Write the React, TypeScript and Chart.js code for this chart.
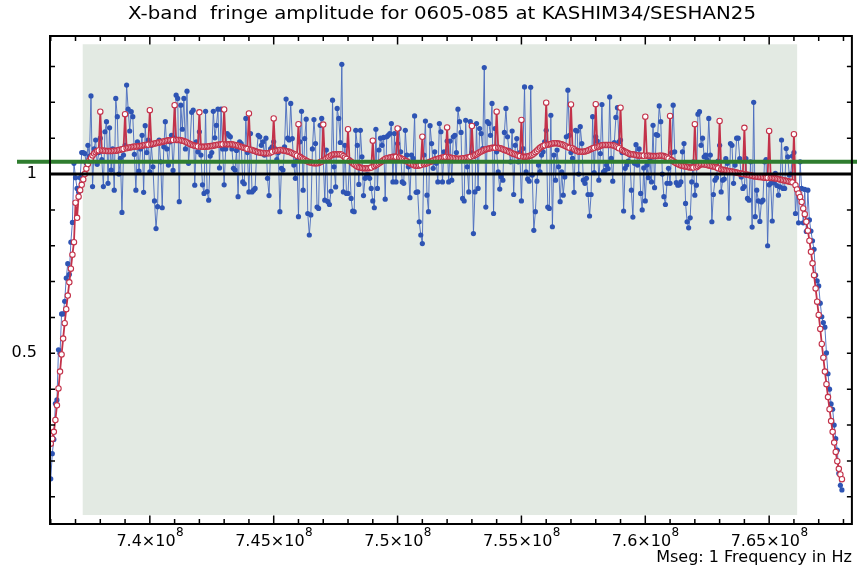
import React, { useEffect, useRef } from "react";
import { Chart, registerables } from "chart.js";

Chart.register(...registerables);

const TITLE = "X-band  fringe amplitude for 0605-085 at KASHIM34/SESHAN25";
const X_AXIS_LABEL = "Mseg: 1 Frequency in Hz";

// channel grid: 512 channels of 62.5 kHz starting at 736 MHz
const CHANNEL_START_HZ = 7.36e8;
const CHANNEL_WIDTH_HZ = 62500;

const X_MIN = 7.3597e8;
const X_MAX = 7.6834e8;
const Y_MIN = 0.024;
const Y_MAX = 1.385;

const X_TICK_VALUES = [7.4e8, 7.45e8, 7.5e8, 7.55e8, 7.6e8, 7.65e8];
const X_TICK_MANTISSA = ["7.4", "7.45", "7.5", "7.55", "7.6", "7.65"];
const X_TICK_EXPONENT = "8";
const Y_TICK_VALUES = [0.5, 1];
const Y_TICK_LABELS = ["0.5", "1"];

const GOOD_BAND_HZ = [7.3729e8, 7.6613e8];
const GOOD_BAND_AMP = [0.049, 1.362];
const REFERENCE_LEVEL = 1.034;
const UNITY_LEVEL = 1;

// measured amplitude (blue, filled dots)
const BLUE_0 = [
  0.15, 0.22, 0.26, 0.36, 0.37, 0.51, 0.5, 0.61, 0.61, 0.645, 0.71, 0.75, 0.72, 0.81, 0.865, 1.03, 0.99, 0.96, 0.95, 0.99,
  1.06, 1.06, 1.057, 1.03, 1.08, 1.05, 1.218, 0.965, 1.07, 1.095, 1.027, 1.06, 1.1, 1.04, 0.965, 1.118, 1.146, 0.974, 1.129, 1.011,
  1.07, 0.955, 1.211, 1.16, 1.0, 1.044, 0.893, 1.053, 1.08, 1.248, 1.181, 1.12, 1.174, 1.16, 1.055, 0.955, 1.09, 1.008, 1.07, 1.108,
  0.949, 1.135, 1.06, 1.095, 1.006, 1.08, 1.02, 0.925, 0.848, 0.909, 1.095, 1.034, 0.906, 1.076, 1.146, 1.07, 1.025, 1.09, 1.108, 1.01,
  1.1, 1.22, 1.211, 0.923, 1.192, 1.125, 1.211, 1.07, 1.231, 1.03, 1.085, 1.172, 1.178, 0.969, 1.09, 1.062, 1.118, 1.053, 0.97, 0.946,
];
const BLUE_1 = [
  1.175, 0.951, 0.927, 1.05, 1.06, 1.175, 1.101, 1.136, 1.181, 1.017, 1.181, 1.07, 0.97, 1.07, 1.113, 1.108, 1.104, 1.07, 1.016, 1.011,
  1.066, 0.937, 1.09, 1.085, 0.978, 0.973, 1.155, 1.06, 0.95, 1.113, 0.95, 0.955, 0.96, 1.06, 1.108, 1.104, 1.08, 1.09, 1.053, 1.1,
  0.988, 0.94, 1.07, 1.076, 1.09, 1.07, 1.04, 1.06, 0.895, 1.016, 1.011, 1.076, 1.209, 1.1, 1.095, 1.197, 1.099, 1.025, 0.988, 1.04,
  0.881, 1.09, 1.175, 0.955, 1.099, 1.153, 0.89, 0.83, 0.886, 1.07, 1.152, 1.085, 0.908, 0.904, 1.136, 1.155, 1.04, 0.927, 1.067, 0.923,
];
const BLUE_2 = [
  0.915, 0.952, 1.206, 1.02, 0.964, 1.183, 1.155, 1.088, 1.306, 0.95, 1.08, 0.946, 0.946, 1.04, 0.932, 0.897, 0.895, 1.122, 1.08, 0.971,
  1.122, 1.048, 0.94, 0.988, 0.998, 0.998, 0.988, 0.96, 0.925, 0.906, 1.125, 0.96, 1.067, 1.1, 1.08, 1.102, 0.93, 1.104, 1.108, 1.113,
  1.141, 0.978, 1.113, 0.978, 1.085, 1.127, 1.062, 0.978, 0.974, 1.122, 1.053, 1.02, 0.934, 1.053, 1.044, 1.162, 0.949, 0.95, 0.867, 0.83,
  0.806, 1.053, 1.148, 0.941, 0.895, 1.135, 1.085, 1.016, 1.062, 1.03, 0.978, 1.141, 1.118, 0.978, 1.062, 1.04, 1.092, 0.978,
];
const BLUE_3 = [
  1.092, 0.983, 1.104, 1.108, 1.06, 1.181, 1.146, 1.116, 0.932, 0.925, 1.15, 1.02, 0.95, 1.146, 1.06, 0.834, 0.95, 1.141, 0.96, 1.127,
  1.113, 1.071, 1.297, 0.908, 1.146, 1.141, 1.108, 1.197, 0.89, 1.127, 1.062, 1.006, 0.958, 0.992, 0.983, 1.116, 1.183, 1.104, 1.066, 1.034,
  1.12, 0.943, 1.08, 1.099, 1.034, 1.06, 0.925, 1.071, 1.243, 1.006, 0.986, 0.98, 1.242, 0.997, 0.843, 0.895, 0.98, 1.025, 1.006, 1.053,
  1.062, 1.09, 1.122, 0.908, 0.904, 1.164, 0.853, 1.053, 0.983, 1.067, 1.02, 0.923, 1.006, 0.941, 0.992, 1.104, 1.234, 1.108, 1.06, 1.044,
  0.949, 1.122, 1.12, 1.0,
];
const BLUE_4 = [
  1.132, 1.085, 0.983, 0.974, 0.988, 0.943, 0.883, 0.943, 1.16, 1.004, 1.104, 1.092, 0.983, 1.057, 1.194, 1.006, 1.01, 1.025, 1.015, 1.215,
  1.044, 0.98, 1.088, 1.158, 1.185, 1.09, 1.095, 1.06, 0.897, 1.016, 1.025, 1.036, 1.053, 0.955, 0.88, 1.03, 1.082, 1.025, 1.07, 0.946,
  0.9, 1.017, 0.925, 1.025, 0.99, 1.043, 0.978, 1.136, 0.962, 1.11, 1.108, 1.19, 1.146, 1.0, 0.937, 0.915, 0.974, 1.016, 0.974, 1.06,
  1.192, 1.062, 0.976, 0.969, 0.97, 0.978, 1.062, 1.085, 0.918, 0.867, 0.85, 0.878, 0.978, 1.034, 0.941, 0.969, 1.167, 1.174, 1.08, 1.1,
];
const BLUE_5 = [
  1.048, 1.053, 1.04, 1.155, 1.053, 0.867, 0.943, 0.983, 0.99, 1.036, 1.08, 0.95, 0.983, 0.986, 1.043, 1.03, 0.877, 1.085, 1.08, 0.974,
  1.025, 1.1, 1.1, 1.043, 0.992, 0.96, 0.965, 1.043, 0.932, 0.927, 1.034, 0.852, 1.2, 0.881, 0.955, 0.925, 0.868, 0.922, 0.927, 1.034,
  1.04, 0.8, 0.97, 0.974, 0.869, 0.976, 1.002, 0.968, 0.941, 0.964, 1.095, 0.96, 0.96, 1.071, 1.048, 0.997, 1.0, 1.05, 1.06,
];
const BLUE_6 = [
  0.89, 0.96, 0.864, 1.034, 0.96, 0.864, 0.957, 0.84, 0.955, 0.872, 0.841, 0.814, 0.79, 0.718, 0.702, 0.688, 0.64, 0.602, 0.586, 0.573,
  0.501, 0.443, 0.4, 0.359, 0.344, 0.3, 0.262, 0.23, 0.165, 0.132, 0.119,
];

// model amplitude (red, open circles) – one row per 16 channels
const RED_0 = [
  0.248, 0.262, 0.281, 0.314, 0.355, 0.402, 0.449, 0.497, 0.541, 0.584, 0.623, 0.661, 0.698, 0.736, 0.775, 0.81,
  0.92, 0.878, 0.937, 0.955, 0.97, 0.985, 1.0, 1.015, 1.028, 1.038, 1.045, 1.052, 1.057, 1.061, 1.064, 1.066,
  1.174, 1.066, 1.065, 1.065, 1.064, 1.064, 1.064, 1.064, 1.064, 1.065, 1.065, 1.066, 1.067, 1.068, 1.069, 1.07,
  1.167, 1.072, 1.073, 1.074, 1.075, 1.076, 1.076, 1.077, 1.077, 1.078, 1.078, 1.079, 1.08, 1.081, 1.082, 1.082,
  1.178, 1.083, 1.084, 1.085, 1.086, 1.087, 1.088, 1.089, 1.09, 1.091, 1.092, 1.093, 1.094, 1.094, 1.095, 1.095,
  1.192, 1.095, 1.095, 1.095, 1.094, 1.093, 1.092, 1.09, 1.088, 1.086, 1.084, 1.082, 1.08, 1.079, 1.078, 1.077,
  1.172, 1.076, 1.076, 1.076, 1.076, 1.077, 1.077, 1.078, 1.078, 1.079, 1.08, 1.081, 1.082, 1.082, 1.083, 1.083,
  1.18, 1.083, 1.083, 1.083, 1.083, 1.083, 1.082, 1.081, 1.08, 1.079, 1.077, 1.076, 1.074, 1.073, 1.071, 1.07,
];
const RED_1 = [
  1.169, 1.068, 1.067, 1.065, 1.064, 1.062, 1.061, 1.06, 1.059, 1.059, 1.058, 1.058, 1.058, 1.058, 1.06, 1.062,
  1.155, 1.064, 1.065, 1.066, 1.067, 1.067, 1.066, 1.065, 1.064, 1.063, 1.062, 1.06, 1.058, 1.056, 1.054, 1.051,
  1.139, 1.048, 1.045, 1.042, 1.04, 1.037, 1.035, 1.033, 1.032, 1.031, 1.03, 1.03, 1.03, 1.031, 1.033, 1.035,
  1.138, 1.04, 1.043, 1.046, 1.049, 1.052, 1.054, 1.055, 1.055, 1.055, 1.055, 1.055, 1.054, 1.05, 1.046, 1.042,
  1.125, 1.037, 1.034, 1.03, 1.027, 1.024, 1.021, 1.019, 1.018, 1.017, 1.016, 1.016, 1.016, 1.016, 1.017, 1.018,
  1.093, 1.022, 1.025, 1.027, 1.03, 1.033, 1.036, 1.039, 1.042, 1.044, 1.045, 1.046, 1.047, 1.048, 1.048, 1.048,
  1.127, 1.046, 1.044, 1.042, 1.04, 1.037, 1.036, 1.033, 1.03, 1.028, 1.026, 1.024, 1.023, 1.023, 1.024, 1.025,
  1.104, 1.027, 1.029, 1.03, 1.032, 1.034, 1.036, 1.038, 1.04, 1.041, 1.042, 1.044, 1.045, 1.046, 1.047, 1.048,
];
const RED_2 = [
  1.13, 1.047, 1.046, 1.045, 1.044, 1.044, 1.043, 1.043, 1.043, 1.043, 1.044, 1.044, 1.045, 1.046, 1.046, 1.048,
  1.134, 1.05, 1.053, 1.055, 1.058, 1.061, 1.063, 1.065, 1.067, 1.069, 1.07, 1.071, 1.072, 1.073, 1.073, 1.073,
  1.174, 1.073, 1.072, 1.071, 1.069, 1.067, 1.066, 1.064, 1.062, 1.06, 1.058, 1.056, 1.055, 1.053, 1.051, 1.05,
  1.151, 1.048, 1.048, 1.048, 1.049, 1.05, 1.052, 1.054, 1.057, 1.061, 1.065, 1.069, 1.073, 1.076, 1.078, 1.08,
  1.199, 1.082, 1.083, 1.084, 1.085, 1.086, 1.086, 1.086, 1.085, 1.084, 1.083, 1.081, 1.079, 1.077, 1.075, 1.073,
  1.194, 1.072, 1.069, 1.066, 1.064, 1.062, 1.062, 1.062, 1.062, 1.063, 1.064, 1.066, 1.068, 1.07, 1.072, 1.073,
  1.195, 1.075, 1.077, 1.079, 1.08, 1.081, 1.081, 1.081, 1.081, 1.081, 1.081, 1.08, 1.079, 1.077, 1.075, 1.072,
  1.185, 1.067, 1.064, 1.062, 1.06, 1.058, 1.056, 1.055, 1.055, 1.054, 1.053, 1.052, 1.052, 1.051, 1.051, 1.051,
];
const RED_3 = [
  1.16, 1.051, 1.051, 1.051, 1.05, 1.05, 1.05, 1.05, 1.05, 1.051, 1.051, 1.051, 1.05, 1.048, 1.046, 1.043,
  1.162, 1.039, 1.036, 1.033, 1.03, 1.028, 1.026, 1.024, 1.023, 1.022, 1.021, 1.02, 1.019, 1.018, 1.018, 1.018,
  1.139, 1.019, 1.022, 1.025, 1.027, 1.027, 1.027, 1.026, 1.025, 1.024, 1.023, 1.022, 1.021, 1.02, 1.018, 1.016,
  1.148, 1.013, 1.012, 1.011, 1.01, 1.009, 1.008, 1.008, 1.007, 1.006, 1.005, 1.004, 1.003, 1.002, 1.001, 1.0,
  1.129, 0.999, 0.998, 0.997, 0.996, 0.995, 0.994, 0.993, 0.993, 0.992, 0.992, 0.991, 0.991, 0.99, 0.99, 0.99,
  1.12, 0.989, 0.989, 0.988, 0.988, 0.987, 0.986, 0.985, 0.984, 0.983, 0.982, 0.981, 0.98, 0.979, 0.978, 0.977,
  1.111, 0.969, 0.957, 0.946, 0.936, 0.922, 0.904, 0.888, 0.867, 0.842, 0.814, 0.783, 0.751, 0.718, 0.681, 0.644,
  0.607, 0.568, 0.526, 0.488, 0.449, 0.414, 0.378, 0.344, 0.311, 0.281, 0.251, 0.225, 0.199, 0.178, 0.162, 0.149,
];

const BLUE_AMPLITUDE = [...BLUE_0, ...BLUE_1, ...BLUE_2, ...BLUE_3, ...BLUE_4, ...BLUE_5, ...BLUE_6];
const RED_AMPLITUDE = [...RED_0, ...RED_1, ...RED_2, ...RED_3];

const channelFreq = (i: number) => CHANNEL_START_HZ + i * CHANNEL_WIDTH_HZ;

const FONT = "'DejaVu Sans', 'Noto Sans', sans-serif";

const decorPlugin = {
  id: "decor",
  beforeDatasetsDraw(chart: any) {
    const { ctx, scales } = chart;
    const x = scales.x;
    const y = scales.y;
    ctx.save();
    ctx.fillStyle = "#e3eae3";
    const x0 = x.getPixelForValue(GOOD_BAND_HZ[0]);
    const x1 = x.getPixelForValue(GOOD_BAND_HZ[1]);
    const y0 = y.getPixelForValue(GOOD_BAND_AMP[1]);
    const y1 = y.getPixelForValue(GOOD_BAND_AMP[0]);
    ctx.fillRect(x0, y0, x1 - x0, y1 - y0);
    ctx.restore();
  },
  afterDatasetsDraw(chart: any) {
    const { ctx, chartArea: a, scales, width } = chart;
    const x = scales.x;
    const y = scales.y;
    ctx.save();
    // unity line
    const yu = y.getPixelForValue(UNITY_LEVEL);
    ctx.strokeStyle = "#000";
    ctx.lineWidth = 3;
    ctx.beginPath();
    ctx.moveTo(a.left, yu);
    ctx.lineTo(a.right, yu);
    ctx.stroke();
    // reference level line (extends past the frame)
    const yr = y.getPixelForValue(REFERENCE_LEVEL);
    ctx.strokeStyle = "#2f7d2f";
    ctx.lineWidth = 4;
    ctx.beginPath();
    ctx.moveTo(17, yr);
    ctx.lineTo(width, yr);
    ctx.stroke();
    // frame
    ctx.strokeStyle = "#000";
    ctx.lineWidth = 2;
    ctx.strokeRect(a.left, a.top, a.right - a.left, a.bottom - a.top);
    // x ticks (inside, top and bottom)
    ctx.lineWidth = 1.5;
    ctx.beginPath();
    for (let m = 736; m <= 768; m++) {
      const px = x.getPixelForValue(m * 1e6);
      if (px < a.left || px > a.right) continue;
      const len = m % 5 === 0 ? 8.5 : 5;
      ctx.moveTo(px, a.bottom);
      ctx.lineTo(px, a.bottom - len);
      ctx.moveTo(px, a.top);
      ctx.lineTo(px, a.top + len);
    }
    // y ticks (inside, left and right)
    for (let k = 1; k <= 13; k++) {
      const py = y.getPixelForValue(k / 10);
      const len = 5;
      ctx.moveTo(a.left, py);
      ctx.lineTo(a.left + len, py);
      ctx.moveTo(a.right, py);
      ctx.lineTo(a.right - len, py);
    }
    ctx.stroke();
    ctx.restore();
  },
  afterDraw(chart: any) {
    const { ctx, chartArea: a, scales } = chart;
    const x = scales.x;
    const y = scales.y;
    ctx.save();
    ctx.fillStyle = "#000";
    // title
    ctx.font = `18px ${FONT}`;
    ctx.textBaseline = "middle";
    ctx.textAlign = "center";
    const tw = ctx.measureText(TITLE).width;
    ctx.save();
    ctx.translate(442, 14);
    ctx.scale(628 / tw, 1);
    ctx.fillText(TITLE, 0, 0);
    ctx.restore();
    // x tick labels with superscript exponent
    X_TICK_VALUES.forEach((v, i) => {
      const px = x.getPixelForValue(v);
      const base = X_TICK_MANTISSA[i] + "\u00d710";
      ctx.font = `16px ${FONT}`;
      const wb = ctx.measureText(base).width;
      ctx.font = `12px ${FONT}`;
      const we = ctx.measureText(X_TICK_EXPONENT).width;
      const left = px - (wb + we) / 2;
      ctx.textAlign = "left";
      ctx.font = `16px ${FONT}`;
      ctx.fillText(base, left, a.bottom + 18);
      ctx.font = `12px ${FONT}`;
      ctx.fillText(X_TICK_EXPONENT, left + wb + 0.5, a.bottom + 9);
    });
    // y tick labels
    ctx.font = `16px ${FONT}`;
    ctx.textAlign = "right";
    Y_TICK_VALUES.forEach((v, i) => {
      ctx.fillText(Y_TICK_LABELS[i], 37, y.getPixelForValue(v));
    });
    // x axis label
    ctx.textAlign = "right";
    ctx.fillText(X_AXIS_LABEL, a.right, 558);
    ctx.restore();
  },
};

export default function App() {
  const ref = useRef<HTMLCanvasElement | null>(null);
  useEffect(() => {
    if (!ref.current) return;
    const chart = new Chart(ref.current, {
      type: "line",
      data: {
        datasets: [
          {
            label: "model",
            data: RED_AMPLITUDE.map((v, i) => ({ x: channelFreq(i), y: v })),
            borderColor: "#c3324a",
            borderWidth: 1.8,
            pointRadius: 2.7,
            pointBackgroundColor: "#ffffff",
            pointBorderColor: "#c3324a",
            pointBorderWidth: 1.1,
            tension: 0,
            order: 1,
          },
          {
            label: "amplitude",
            data: BLUE_AMPLITUDE.map((v, i) => ({ x: channelFreq(i), y: v })),
            borderColor: "rgba(72,106,190,0.9)",
            borderWidth: 1,
            pointRadius: 2.6,
            pointBackgroundColor: "#2e54b4",
            pointBorderWidth: 0,
            tension: 0,
            order: 2,
          },
        ],
      },
      options: {
        responsive: false,
        maintainAspectRatio: false,
        devicePixelRatio: 1,
        animation: false,
        events: [],
        layout: { padding: { left: 50, top: 36, right: 5, bottom: 45 } },
        scales: {
          x: { type: "linear", min: X_MIN, max: X_MAX, display: false },
          y: { type: "linear", min: Y_MIN, max: Y_MAX, display: false },
        },
        plugins: {
          legend: { display: false },
          tooltip: { enabled: false },
          title: { display: false },
        },
      },
      plugins: [decorPlugin],
    });
    return () => chart.destroy();
  }, []);
  return (
    <div style={{ position: "absolute", left: 0, top: 0, width: 857, height: 569, background: "#fff" }}>
      <canvas ref={ref} width={857} height={569} style={{ display: "block" }} />
    </div>
  );
}
